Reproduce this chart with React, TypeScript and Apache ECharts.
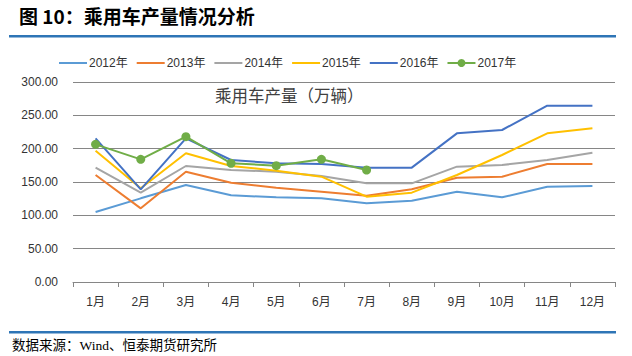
import React, { useEffect, useRef } from "react";
import * as echarts from "echarts";

const months = ["1月", "2月", "3月", "4月", "5月", "6月", "7月", "8月", "9月", "10月", "11月", "12月"];
const seriesNames = ["2012年", "2013年", "2014年", "2015年", "2016年", "2017年"];
const s2012 = [105, 125.5, 145.5, 130, 127, 125.5, 118, 122, 135.5, 127, 143, 144];
const s2013 = [160.5, 110.5, 165.5, 149, 141.5, 135.5, 129.5, 139, 156.5, 158, 177, 177];
const s2014 = [171.5, 134, 174, 168, 165.5, 159, 148, 148, 173, 175.5, 183, 194];
const s2015 = [197, 140.5, 193, 174, 167, 158, 128, 134, 160.5, 190.5, 223, 230.5];
const s2016 = [215.5, 139, 215.5, 183, 178, 177, 171.5, 171.5, 223, 228, 264.5, 264.5];
const s2017 = [206.5, 184, 218, 178, 174.5, 184, 168];
const yTicks = { min: 0, max: 300, interval: 50 };
const colors = ["#5B9BD5", "#ED7D31", "#A5A5A5", "#FFC000", "#4472C4", "#70AD47"];

export default function App() {
  const ref = useRef<HTMLDivElement>(null);
  useEffect(() => {
    if (!ref.current) return;
    const chart = echarts.init(ref.current, null, { renderer: "svg" });
    const data = [s2012, s2013, s2014, s2015, s2016, s2017];
    const font = "Arial, 'Liberation Sans', 'Noto Sans CJK SC', sans-serif";
    chart.setOption({
      animation: false,
      backgroundColor: "#ffffff",
      color: colors,
      textStyle: { fontFamily: font },
      legend: {
        left: 53,
        top: 52,
        itemWidth: 28,
        itemHeight: 10,
        itemGap: 8,
        textStyle: { fontSize: 12, color: "#333", fontFamily: font, padding: [0, 0, 0, -3] },
        data: seriesNames.map((name, i) =>
          i === 5
            ? { name }
            : { name, itemStyle: { opacity: 0 } }
        ),
      },
      grid: { left: 73, right: 17, top: 82, bottom: 74 },
      xAxis: {
        type: "category",
        data: months,
        boundaryGap: true,
        axisLine: { lineStyle: { color: "#868686", width: 1 } },
        axisTick: { show: true, length: 5, lineStyle: { color: "#868686" } },
        axisLabel: { color: "#333", fontSize: 12, margin: 14, fontFamily: font },
      },
      yAxis: {
        type: "value",
        min: yTicks.min,
        max: yTicks.max,
        interval: yTicks.interval,
        axisLine: { show: false },
        axisTick: { show: false },
        splitLine: { lineStyle: { color: "#868686", width: 1 } },
        axisLabel: {
          color: "#333",
          fontSize: 12,
          margin: 15,
          fontFamily: font,
          formatter: (v: number) => v.toFixed(2),
        },
      },
      series: seriesNames.map((name, i) => ({
        name,
        type: "line",
        data: data[i],
        symbol: i === 5 ? "circle" : "none",
        symbolSize: 9,
        showSymbol: i === 5,
        lineStyle: { width: 2, color: colors[i] },
        itemStyle: { color: colors[i] },
        z: 2 + i,
      })),
      graphic: [
        {
          type: "text",
          left: 19,
          top: 6,
          style: {
            text: "图 10：乘用车产量情况分析",
            fontSize: 19,
            fontWeight: "bold",
            fill: "#000",
            fontFamily: "'Noto Sans CJK SC', sans-serif",
          },
        },
        {
          type: "rect",
          shape: { x: 9, y: 35, width: 607, height: 2.5 },
          style: { fill: "#2E75B6" },
        },
        {
          type: "text",
          left: 215,
          top: 87,
          style: {
            text: "乘用车产量（万辆）",
            fontSize: 16.5,
            fill: "#404040",
            fontFamily: "'Noto Sans CJK SC', sans-serif",
          },
        },
        {
          type: "rect",
          shape: { x: 9, y: 331, width: 607, height: 2.5 },
          style: { fill: "#2E75B6" },
        },
        {
          type: "text",
          left: 12,
          top: 339,
          style: {
            text: "数据来源：Wind、恒泰期货研究所",
            fontSize: 13.5,
            fill: "#000",
            fontFamily: "'Liberation Serif', 'Noto Sans CJK SC', serif",
          },
        },
      ],
    });
    return () => chart.dispose();
  }, []);
  return (
    <div
      ref={ref}
      style={{ position: "absolute", left: 0, top: 0, width: 632, height: 356 }}
    />
  );
}
